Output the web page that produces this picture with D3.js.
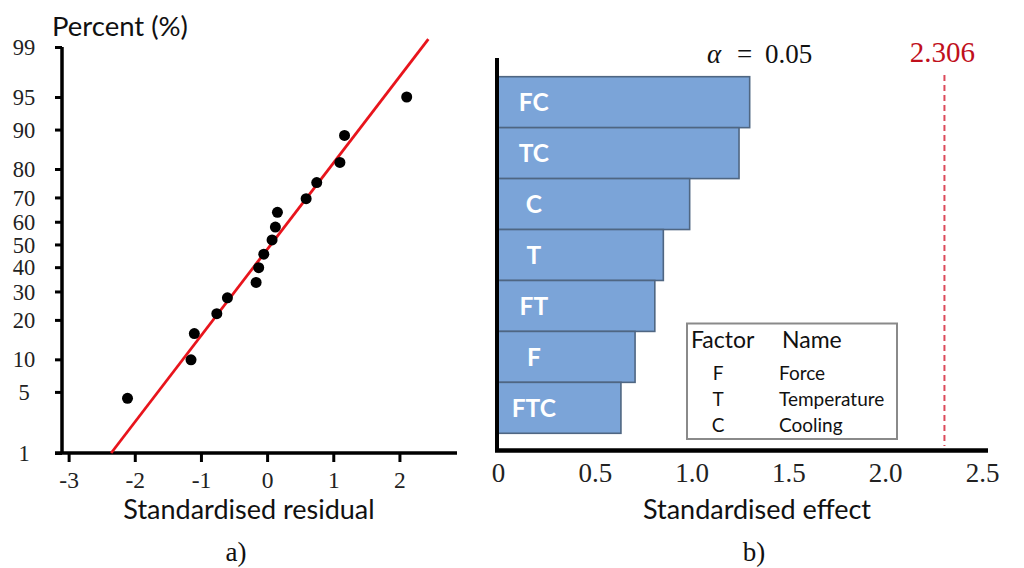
<!DOCTYPE html>
<html><head><meta charset="utf-8">
<script src="https://cdn.jsdelivr.net/npm/d3@7"></script>
<style>
html,body{margin:0;padding:0;background:#fff;}
svg{display:block;}
</style>
</head><body>
<svg id="chart" width="1024" height="568"></svg>
<script>
// ---------- Data ----------
// a) Normal probability plot
const residuals = [-2.11, -1.15, -1.10, -0.76, -0.60, -0.166, -0.127, -0.05, 0.075, 0.125, 0.156, 0.59, 0.75, 1.10, 1.17, 2.11];
const percents  = [4.3, 9.9, 16, 22, 27.6, 33.6, 39.8, 45.7, 52, 57.7, 64, 69.5, 75.5, 82, 88.8, 95];
const fitResidual = [-2.357, 2.437];
const fitPercent  = [1, 99.25];
const percentTicks = [1, 5, 10, 20, 30, 40, 50, 60, 70, 80, 90, 95, 99];
const residualTicks = [-3, -2, -1, 0, 1, 2];

// b) Pareto chart of standardised effects
const factors = ["FC", "TC", "C", "T", "FT", "F", "FTC"];
const effects = [1.30, 1.245, 0.99, 0.854, 0.81, 0.708, 0.635];
const effectTicks = [0, 0.5, 1.0, 1.5, 2.0, 2.5];
const effectTickLabels = ["0", "0.5", "1.0", "1.5", "2.0", "2.5"];
const criticalValue = 2.306;
const legendFactors = ["F", "T", "C"];
const legendNames = ["Force", "Temperature", "Cooling"];

// ---------- helpers ----------
function normInv(p) {
  const a=[-3.969683028665376e+01,2.209460984245205e+02,-2.759285104469687e+02,1.383577518672690e+02,-3.066479806614716e+01,2.506628277459239e+00];
  const b=[-5.447609879822406e+01,1.615858368580409e+02,-1.556989798598866e+02,6.680131188771972e+01,-1.328068155288572e+01];
  const c=[-7.784894002430293e-03,-3.223964580411365e-01,-2.400758277161838e+00,-2.549732810594915e+00,4.374664141464968e+00,2.938163982698783e+00];
  const d=[7.784695709041462e-03,3.224671290700398e-01,2.445134137142996e+00,3.754408661907416e+00];
  const pl=0.02425, ph=1-pl; let q,r;
  if (p<pl){q=Math.sqrt(-2*Math.log(p));return (((((c[0]*q+c[1])*q+c[2])*q+c[3])*q+c[4])*q+c[5])/((((d[0]*q+d[1])*q+d[2])*q+d[3])*q+1);}
  if (p<=ph){q=p-0.5;r=q*q;return (((((a[0]*r+a[1])*r+a[2])*r+a[3])*r+a[4])*r+a[5])*q/(((((b[0]*r+b[1])*r+b[2])*r+b[3])*r+b[4])*r+1);}
  q=Math.sqrt(-2*Math.log(1-p));return -(((((c[0]*q+c[1])*q+c[2])*q+c[3])*q+c[4])*q+c[5])/((((d[0]*q+d[1])*q+d[2])*q+d[3])*q+1);
}
const z = pct => normInv(pct/100);

const svg = d3.select("#chart");
const serif = "'Liberation Serif', 'Times New Roman', serif";
const sans = "Lato, 'Open Sans', sans-serif";

// ---------- Chart a ----------
const xa = d3.scaleLinear().domain([-3.1, 2.87]).range([62, 457]);
const ya = d3.scaleLinear().domain([z(1), z(95), z(99)]).range([453, 97, 47]);
const ga = svg.append("g");

const xAxisA = ga.append("g").attr("transform", `translate(0,${ya(z(1))})`)
  .call(d3.axisBottom(xa).tickValues(residualTicks).tickSize(9).tickSizeOuter(0).tickFormat(d => d < 0 ? "-" + Math.abs(d) : d));
xAxisA.select(".domain").attr("stroke-width", 3.5).attr("d", `M${xa.range()[0]-7},0H${xa.range()[1]}`);
xAxisA.selectAll(".tick line").attr("stroke-width", 3);
xAxisA.selectAll(".tick text").attr("y", 35).attr("dy", 0).attr("font-family", serif).attr("font-size", 23.5).attr("fill", "#222");

const yAxisA = ga.append("g").attr("transform", `translate(${xa.range()[0]},0)`)
  .call(d3.axisLeft(ya).tickValues(percentTicks.map(z)).tickSize(7).tickSizeOuter(0).tickFormat((d,i) => percentTicks[i]));
yAxisA.select(".domain").attr("stroke-width", 3.5).attr("d", `M0,${ya(z(99))}V${ya(z(1))}`);
yAxisA.selectAll(".tick line").attr("stroke-width", 3);
yAxisA.selectAll(".tick text").attr("x", -38).attr("dy", "0.34em").attr("text-anchor", "middle")
  .attr("font-family", serif).attr("font-size", 22.5).attr("fill", "#222");

// fitted line
ga.append("line")
  .attr("x1", xa(fitResidual[0])).attr("y1", ya(z(fitPercent[0])))
  .attr("x2", xa(fitResidual[1])).attr("y2", ya(z(fitPercent[1])))
  .attr("stroke", "#e8141c").attr("stroke-width", 2.8);

// points
ga.selectAll("circle.pt").data(residuals).join("circle")
  .attr("class", "pt")
  .attr("cx", d => xa(d)).attr("cy", (d,i) => ya(z(percents[i])))
  .attr("r", 5.5).attr("fill", "#000");

ga.append("text").attr("x", 52).attr("y", 36).attr("font-family", sans).attr("font-size", 27.5)
  .attr("fill", "#111").text("Percent (%)");
ga.append("text").attr("x", 249).attr("y", 519).attr("text-anchor", "middle").attr("font-family", sans)
  .attr("font-size", 27).attr("fill", "#111").text("Standardised residual");
ga.append("text").attr("x", 236).attr("y", 561).attr("text-anchor", "middle").attr("font-family", serif)
  .attr("font-size", 27).attr("fill", "#111").text("a)");

// ---------- Chart b ----------
const xb = d3.scaleLinear().domain([0, 2.5]).range([498, 982]);
const yb = d3.scaleBand().domain(factors).range([76.7, 433.3]).padding(0);
const gb = svg.append("g");

gb.selectAll("rect.bar").data(factors).join("rect")
  .attr("class", "bar")
  .attr("x", xb(0)).attr("y", d => yb(d))
  .attr("width", (d,i) => xb(effects[i]) - xb(0)).attr("height", yb.bandwidth())
  .attr("fill", "#7BA4D8").attr("stroke", "#4f6682").attr("stroke-width", 1.6);

gb.selectAll("text.blabel").data(factors).join("text")
  .attr("class", "blabel")
  .attr("x", xb(0.185)).attr("y", d => yb(d) + yb.bandwidth()/2).attr("dy", "0.36em")
  .attr("text-anchor", "middle").attr("font-family", sans).attr("font-weight", "bold")
  .attr("font-size", 24.5).attr("fill", "#fff").text(d => d);

// critical line
gb.append("line")
  .attr("x1", xb(criticalValue)).attr("x2", xb(criticalValue))
  .attr("y1", 75).attr("y2", 446)
  .attr("stroke", "#dc4a5a").attr("stroke-width", 2).attr("stroke-dasharray", "6,4");

// axes
const xAxisB = gb.append("g").attr("transform", "translate(0,450.5)")
  .call(d3.axisBottom(xb).tickValues(effectTicks).tickSize(0).tickSizeOuter(0).tickFormat((d,i) => effectTickLabels[i]));
xAxisB.select(".domain").attr("stroke-width", 4.5).attr("d", `M${xb(0)-3},0H988`);
xAxisB.selectAll(".tick text").attr("y", 31).attr("dy", 0).attr("font-family", serif)
  .attr("font-size", 27).attr("fill", "#222");

const yAxisB = gb.append("g").attr("transform", `translate(${xb(0)-1},0)`)
  .call(d3.axisLeft(yb).tickSize(0).tickSizeOuter(0).tickFormat(""));
yAxisB.select(".domain").attr("stroke-width", 4).attr("d", "M0,58V452");

// annotations
const alphaText = gb.append("text").attr("y", 63).attr("font-family", serif)
  .attr("font-size", 27).attr("fill", "#111");
alphaText.append("tspan").attr("x", 707).attr("font-style", "italic").text("α");
alphaText.append("tspan").attr("x", 737).text("=");
alphaText.append("tspan").attr("x", 765).text("0.05");
gb.append("text").attr("x", xb(criticalValue) - 2).attr("y", 62).attr("text-anchor", "middle")
  .attr("font-family", serif).attr("font-size", 29).attr("fill", "#c0101c").text(String(criticalValue));

// legend
const lg = gb.append("g");
lg.append("rect").attr("x", 687).attr("y", 323.5).attr("width", 210).attr("height", 115.5)
  .attr("fill", "#fff").attr("stroke", "#8a8a8a").attr("stroke-width", 2);
lg.append("text").attr("x", 691).attr("y", 348).attr("font-family", sans).attr("font-size", 23)
  .attr("fill", "#111").text("Factor");
lg.append("text").attr("x", 782).attr("y", 348).attr("font-family", sans).attr("font-size", 23)
  .attr("fill", "#111").text("Name");
lg.selectAll("text.lf").data(legendFactors).join("text").attr("class", "lf")
  .attr("x", 718).attr("y", (d,i) => 380 + i*26).attr("text-anchor", "middle")
  .attr("font-family", sans).attr("font-size", 19).attr("fill", "#111").text(d => d);
lg.selectAll("text.ln").data(legendNames).join("text").attr("class", "ln")
  .attr("x", 779).attr("y", (d,i) => 380 + i*26)
  .attr("font-family", sans).attr("font-size", 19).attr("fill", "#111").text(d => d);

gb.append("text").attr("x", 757).attr("y", 519).attr("text-anchor", "middle").attr("font-family", sans)
  .attr("font-size", 27).attr("fill", "#111").text("Standardised effect");
gb.append("text").attr("x", 754).attr("y", 561).attr("text-anchor", "middle").attr("font-family", serif)
  .attr("font-size", 27).attr("fill", "#111").text("b)");
</script>
</body></html>
